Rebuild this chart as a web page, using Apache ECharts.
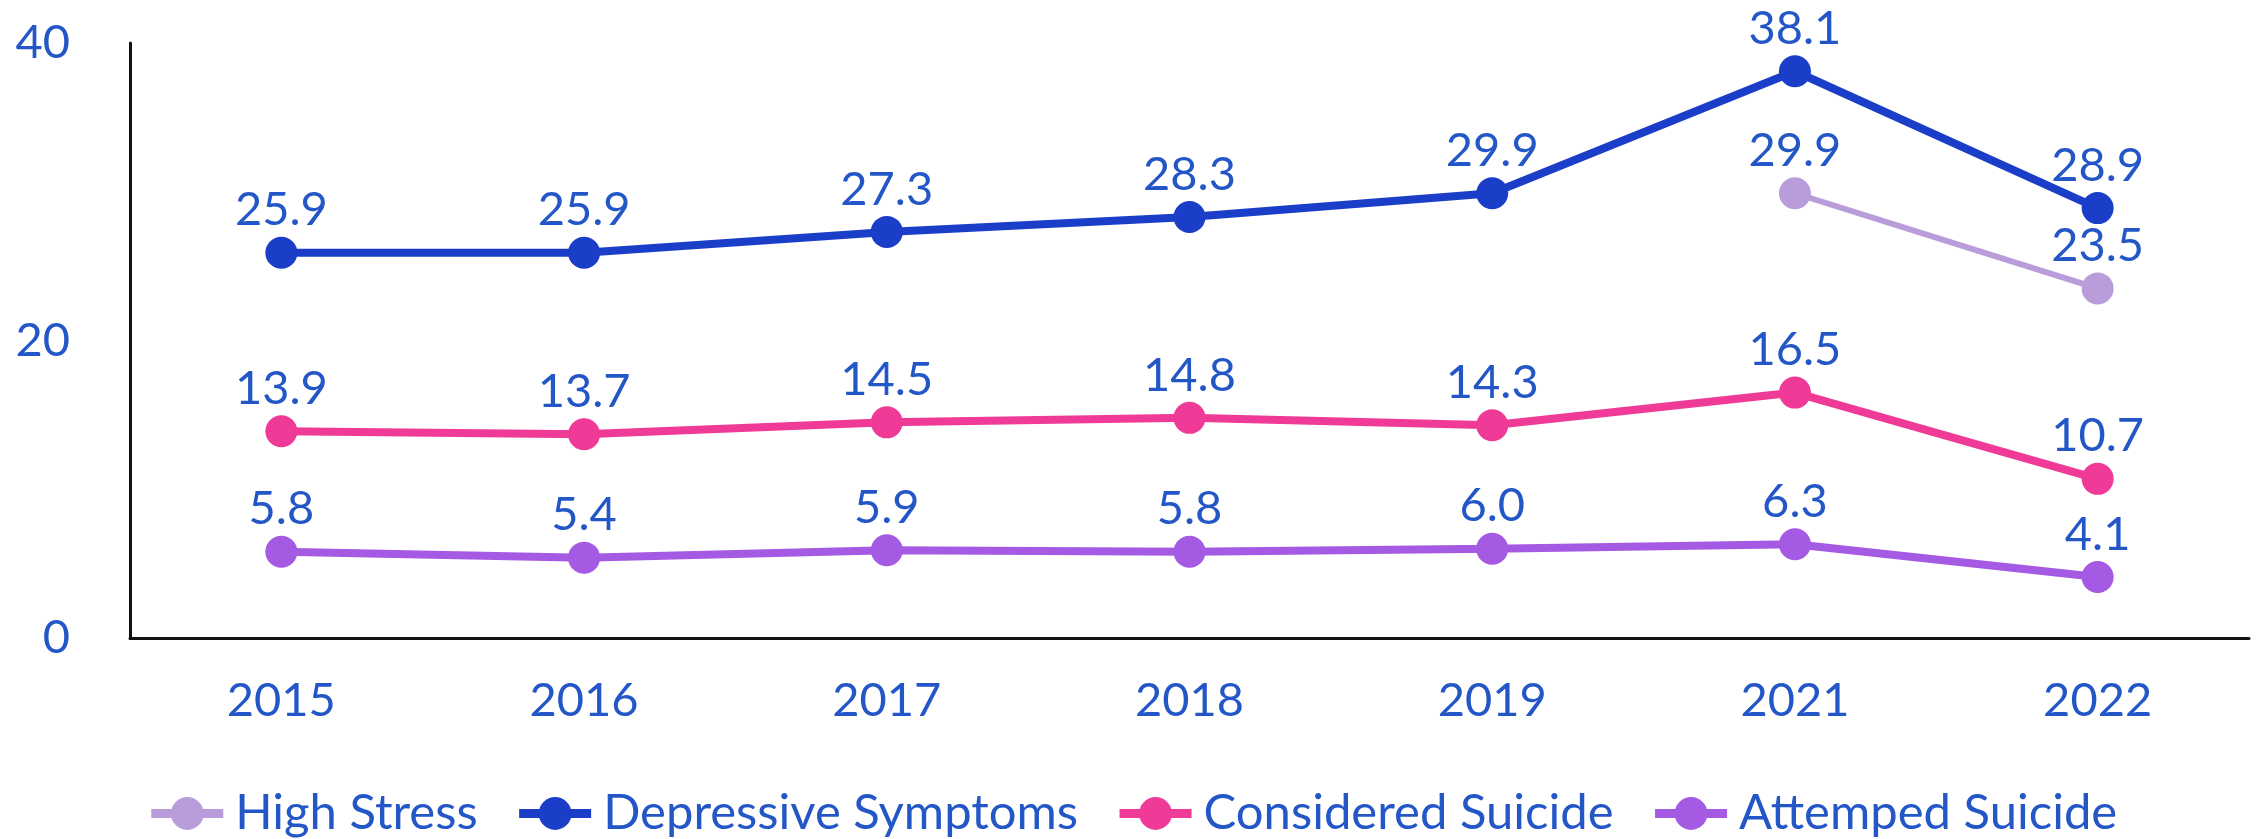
<!DOCTYPE html>
<html><head><meta charset="utf-8">
<script src="https://cdn.jsdelivr.net/npm/echarts@6/dist/echarts.min.js"></script>
<style>html,body{margin:0;padding:0;background:#fff}#c{width:2264px;height:839px}</style>
</head><body><div id="c"></div>
<script>
const categories = ['2015','2016','2017','2018','2019','2021','2022'];
const highStress = [null, null, null, null, null, 29.9, 23.5];
const depressive = [25.9, 25.9, 27.3, 28.3, 29.9, 38.1, 28.9];
const considered = [13.9, 13.7, 14.5, 14.8, 14.3, 16.5, 10.7];
const attempted = [5.8, 5.4, 5.9, 5.8, 6.0, 6.3, 4.1];
const yTicks = [0, 20, 40];

const textColor = '#2356c6';
const font = 'Lato';
function mk(name, data, color, lw) {
  return {
    name, type: 'line', data, color,
    symbol: 'circle', symbolSize: 32,
    lineStyle: { width: lw, color },
    itemStyle: { color },
    connectNulls: false,
    label: { show: true, position: 'top', distance: 3, color: textColor, fontFamily: font, fontSize: 47,
      formatter: p => p.value == null ? '' : Number(p.value).toFixed(1) },
    emphasis: { disabled: true }
  };
}
const chart = echarts.init(document.getElementById('c'), null, { renderer: 'canvas' });
chart.setOption({
  animation: false,
  textStyle: { fontFamily: font },
  grid: { left: 130, right: 15, top: 43, bottom: 201, containLabel: false },
  legend: {
    bottom: -4, left: 'center', itemWidth: 72, itemHeight: 41, itemGap: 37,
    lineStyle: { width: 9 },
    textStyle: { color: textColor, fontFamily: font, fontSize: 49, padding: [0, 0, 0, 7] },
    data: ['High Stress', 'Depressive Symptoms', 'Considered Suicide', 'Attemped Suicide']
  },
  xAxis: {
    type: 'category', data: categories, boundaryGap: true,
    axisLine: { lineStyle: { color: '#111', width: 3 } },
    axisTick: { show: false },
    axisLabel: { color: textColor, fontFamily: font, fontSize: 47, margin: 39 }
  },
  yAxis: {
    type: 'value', min: yTicks[0], max: yTicks[yTicks.length - 1], interval: yTicks[1] - yTicks[0],
    axisLine: { show: true, lineStyle: { color: '#111', width: 3 } },
    axisTick: { show: false },
    splitLine: { show: false },
    axisLabel: { color: textColor, fontFamily: font, fontSize: 47, margin: 60 }
  },
  series: [
    mk('High Stress', highStress, '#b99ddb', 6),
    mk('Depressive Symptoms', depressive, '#1a3ec8', 8),
    mk('Considered Suicide', considered, '#f03a97', 8),
    mk('Attemped Suicide', attempted, '#a45ae2', 8)
  ]
});
</script></body></html>
